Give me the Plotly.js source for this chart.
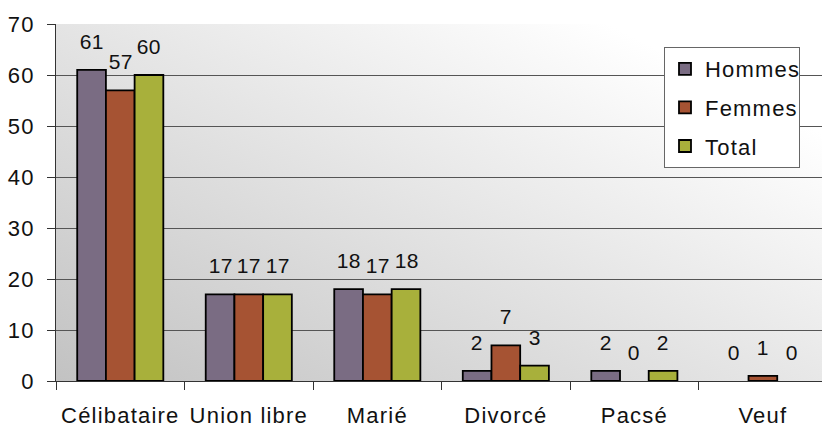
<!DOCTYPE html>
<html>
<head>
<meta charset="utf-8">
<script src="https://cdn.plot.ly/plotly-3.0.1.min.js"></script>
<style>
  html, body { margin: 0; padding: 0; background: #fff; }
  #chart { width: 822px; height: 428px; }
  /* the original text is a little spaced out */
  #chart text { letter-spacing: 1.2px; }
  #chart .annotation-text { letter-spacing: 0.3px; }
</style>
</head>
<body>
<div id="chart"></div>
<script>
// data
const categories = ['Célibataire', 'Union libre', 'Marié', 'Divorcé', 'Pacsé', 'Veuf'];
const hommes = [61, 17, 18, 2, 2, 0];
const femmes = [57, 17, 17, 7, 0, 1];
const total = [60, 17, 18, 3, 2, 0];
const seriesNames = ['Hommes', 'Femmes', 'Total'];

const colors = ['#7a6c83', '#a65333', '#a8b03b'];
const FONT = 'Liberation Sans, Arial, sans-serif';
const FSIZE = 22;

// plot geometry
const W = 822, H = 428;
const margin = {l: 56, r: 0, t: 24, b: 47};
const xRange = [-0.5, 5.46];
const bargap = 0.33;
const plotW = W - margin.l - margin.r;
const plotH = H - margin.t - margin.b;
const catW = plotW / (xRange[1] - xRange[0]);
const barW = catW * (1 - bargap) / 3;

// diagonal grey gradient behind the plot area
const bgSvg = `<svg xmlns="http://www.w3.org/2000/svg" width="${plotW}" height="${plotH}" viewBox="0 0 ${plotW} ${plotH}" preserveAspectRatio="none">
<defs><linearGradient id="g" gradientUnits="userSpaceOnUse" x1="0" y1="${plotH}" x2="260" y2="-150">
<stop offset="0" stop-color="#c2c2c2"/><stop offset="1" stop-color="#ffffff"/></linearGradient></defs>
<rect width="${plotW}" height="${plotH}" fill="url(#g)"/></svg>`;
const bgSrc = 'data:image/svg+xml;charset=utf-8,' + encodeURIComponent(bgSvg);

const allSeries = [hommes, femmes, total];

const traces = allSeries.map((vals, i) => ({
  type: 'bar',
  name: seriesNames[i],
  x: categories,
  y: vals,
  legendgroup: 'g' + i,
  marker: {
    color: colors[i],
    // no outline on empty bars
    line: {color: '#000', width: vals.map(v => v === 0 ? 0 : 1.8)}
  },
  hoverinfo: 'skip'
}));

// value labels above each bar
const annotations = [];
allSeries.forEach((vals, i) => {
  vals.forEach((v, j) => {
    annotations.push({
      x: categories[j], y: v, xref: 'x', yref: 'y',
      text: String(v), showarrow: false,
      xanchor: 'center', yanchor: 'bottom',
      xshift: (i - 1) * barW, yshift: 15,
      font: {family: FONT, size: 21, color: '#111'}
    });
  });
});

const layout = {
  width: W, height: H,
  margin: margin,
  paper_bgcolor: '#fff',
  plot_bgcolor: 'rgba(0,0,0,0)',
  barmode: 'group',
  bargap: bargap,
  bargroupgap: 0,
  font: {family: FONT, size: FSIZE, color: '#111'},
  showlegend: true,
  legend: {
    x: (664 - margin.l) / plotW, y: (H - margin.b - 47) / plotH,
    xanchor: 'left', yanchor: 'top',
    bgcolor: '#fff', bordercolor: '#666', borderwidth: 1,
    font: {family: FONT, size: FSIZE, color: '#111'},
    itemwidth: 30, tracegroupgap: 7,
    entrywidth: 111
  },
  xaxis: {
    type: 'category',
    range: xRange,
    showline: true, linecolor: '#333', linewidth: 1,
    ticks: 'outside', tickson: 'boundaries', ticklen: 8, tickcolor: '#333',
    ticklabelstandoff: 15,
    showgrid: false,
    tickfont: {family: FONT, size: FSIZE, color: '#111'}
  },
  yaxis: {
    range: [0, 70], dtick: 10,
    showline: true, linecolor: '#333', linewidth: 1,
    ticks: 'outside', ticklen: 8, tickcolor: '#333',
    ticklabelstandoff: 8,
    showgrid: true, gridcolor: '#555', gridwidth: 1,
    zeroline: true, zerolinecolor: '#333', zerolinewidth: 1,
    tickfont: {family: FONT, size: FSIZE, color: '#111'}
  },
  images: [{
    source: bgSrc, xref: 'paper', yref: 'paper',
    x: 0, y: 1, sizex: 1, sizey: 1,
    sizing: 'stretch', xanchor: 'left', yanchor: 'top', layer: 'below'
  }],
  annotations: annotations
};

Plotly.newPlot('chart', traces, layout, {displayModeBar: false, staticPlot: true});
</script>
</body>
</html>
